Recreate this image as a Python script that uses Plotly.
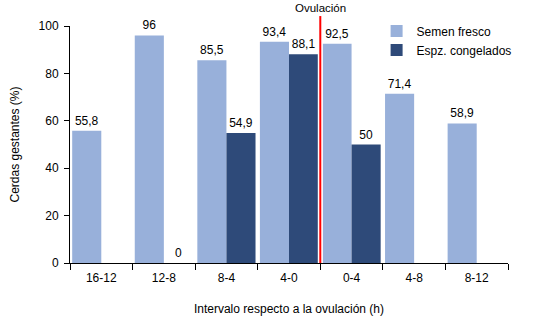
import plotly.graph_objects as go

categories = ["16-12", "12-8", "8-4", "4-0", "0-4", "4-8", "8-12"]
fresco = [55.8, 96, 85.5, 93.4, 92.5, 71.4, 58.9]
congelados = [None, 0, 54.9, 88.1, 50, None, None]
fresco_labels = ["55,8", "96", "85,5", "93,4", "92,5", "71,4", "58,9"]
congelados_labels = ["", "0", "54,9", "88,1", "50", "", ""]

LIGHT = "#98B0DA"
DARK = "#2E4A79"
FONT = "Liberation Sans, Arial, sans-serif"

fig = go.Figure()
fig.add_trace(go.Bar(x=categories, y=fresco, name="Semen fresco",
                     marker=dict(color=LIGHT, line=dict(width=0)),
                     text=fresco_labels, textposition="outside",
                     textfont=dict(color="black", size=12), cliponaxis=False))
fig.add_trace(go.Bar(x=categories, y=congelados, name="Espz. congelados",
                     marker=dict(color=DARK, line=dict(width=0)),
                     text=congelados_labels, textposition="outside",
                     textfont=dict(color="black", size=12), cliponaxis=False))

# ovulation line at boundary between "4-0" and "0-4"
fig.add_shape(type="line", xref="x", yref="paper", x0=3.5, x1=3.5, y0=0, y1=1.042,
              line=dict(color="white", width=5))
fig.add_shape(type="line", xref="x", yref="paper", x0=3.5, x1=3.5, y0=0, y1=1.042,
              line=dict(color="#FF0000", width=2))
fig.add_annotation(x=3.5, xref="x", y=1.044, yref="paper", text="Ovulación",
                   showarrow=False, yanchor="bottom", font=dict(size=11.5, color="black"))

fig.update_layout(
    width=550, height=330,
    margin=dict(l=70, r=42, t=26, b=67),
    paper_bgcolor="white", plot_bgcolor="white",
    font=dict(family=FONT, size=12, color="black"),
    barmode="group", bargap=0.07, bargroupgap=0,
    showlegend=True,
    legend=dict(x=0.70, y=1.04, xanchor="left", yanchor="top",
                bgcolor="rgba(0,0,0,0)", font=dict(size=12),
                itemwidth=30, tracegroupgap=2),
    xaxis=dict(type="category", showline=True, linecolor="black", linewidth=1,
               ticks="outside", tickson="boundaries", ticklen=6, tickcolor="black",
               tickfont=dict(size=12), ticklabelstandoff=4,
               showgrid=False,
               title=dict(text="Intervalo respecto a la ovulación (h)", standoff=20,
                          font=dict(size=12)),
               range=[-0.5, 6.5]),
    yaxis=dict(range=[0, 100], tickvals=[0, 20, 40, 60, 80, 100], showline=True,
               linecolor="black", linewidth=1, ticks="outside", ticklen=5,
               tickcolor="black", showgrid=False, zeroline=False,
               tickfont=dict(size=12), ticklabelstandoff=3,
               title=dict(text="Cerdas gestantes (%)", standoff=16,
                          font=dict(size=12))),
)

fig.write_html("out.html")
